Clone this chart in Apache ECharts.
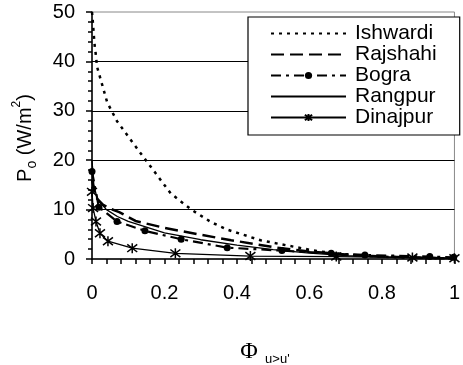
<!DOCTYPE html>
<html><head><meta charset="utf-8">
<script src="https://cdn.jsdelivr.net/npm/echarts@6/dist/echarts.min.js"></script>
<style>html,body{margin:0;padding:0;background:#fff}#c{width:463px;height:365px}</style>
</head><body><div id="c"></div>
<script>
const seriesNames = ['Ishwardi','Rajshahi','Bogra','Rangpur','Dinajpur'];
const xTicks = [0,0.2,0.4,0.6,0.8,1];
const yTicks = [0,10,20,30,40,50];

const ishwardiX = [0,0.003,0.005,0.008,0.01,0.014,0.042,0.069,0.121,0.217,0.246,0.274,0.33,0.375,0.465,0.52,0.606,0.67,0.75,0.85,0.93,1.0];
const ishwardiY = [50,47.4,45.3,42.7,41.7,38.9,31.7,27.9,22.7,13.3,11.6,10.0,7.4,5.9,3.8,3.0,1.8,1.1,0.6,0.35,0.2,0.1];

const rajshahiX = [0,0.01,0.03,0.05,0.075,0.12,0.2,0.3,0.384,0.51,0.6,0.7,0.8,0.9,1.0];
const rajshahiY = [16,12.5,11,10.2,9.5,7.7,6.3,4.9,3.8,2.3,1.5,0.9,0.5,0.3,0.1];

const bograX = [0,0.019,0.069,0.146,0.246,0.373,0.524,0.66,0.753,0.932,0.998];
const bograY = [17.7,10.5,7.6,5.7,4.0,2.3,1.7,1.15,0.8,0.5,0.35];

const rangpurX = [0,0.005,0.015,0.04,0.07,0.1,0.2,0.3,0.4,0.5,0.6,0.7,0.8,0.9,1.0];
const rangpurY = [20,15,12,10,8.6,7.6,5.3,3.9,2.8,1.9,1.2,0.7,0.45,0.25,0.1];

const dinajpurX = [0,0.003,0.011,0.022,0.044,0.111,0.23,0.437,0.674,0.884,1.0];
const dinajpurY = [13.6,10.3,7.6,5.2,3.6,2.2,1.15,0.6,0.5,0.3,0.15];

const zip = (xs, ys) => xs.map((x, i) => [x, ys[i]]);
const F = 'Liberation Sans, Arial, sans-serif';

const chart = echarts.init(document.getElementById('c'), null, {renderer: 'canvas'});
chart.setOption({
  animation: false,
  backgroundColor: '#fff',
  grid: {left: 92, right: 4, top: 12, bottom: 106, show: true, borderColor: '#888', borderWidth: 1},
  xAxis: {
    type: 'value', min: 0, max: 1, interval: 0.2,
    axisLine: {lineStyle: {color: '#000', width: 1.5}},
    axisTick: {inside: false, length: 5, lineStyle: {color: '#000', width: 1.5}},
    minorTick: {show: true, splitNumber: 5, length: 5, lineStyle: {color: '#000', width: 1.5}},
    splitLine: {show: false},
    axisLabel: {color: '#000', fontSize: 20, fontFamily: F, margin: 24,
      formatter: v => String(+v.toFixed(1))}
  },
  yAxis: {
    type: 'value', min: 0, max: 50, interval: 10,
    axisLine: {lineStyle: {color: '#000', width: 1.5}},
    axisTick: {inside: false, length: 6, lineStyle: {color: '#000', width: 1.5}},
    minorTick: {show: true, splitNumber: 5, length: 4, lineStyle: {color: '#000', width: 1.5}},
    splitLine: {show: true, showMinLine: false, showMaxLine: false, lineStyle: {color: '#000', width: 1}},
    axisLabel: {color: '#000', fontSize: 20, fontFamily: F, margin: 17}
  },
  legend: {
    orient: 'vertical', left: 248, top: 17,
    backgroundColor: '#fff', borderColor: '#000', borderWidth: 1.2,
    padding: [6, 23, 7, 22],
    itemWidth: 75, itemHeight: 9, itemGap: 0,
    textStyle: {color: '#000', fontSize: 21, fontFamily: F, padding: [0, 0, 0, 4], lineHeight: 19.5},
    data: [
      {name: seriesNames[0], itemStyle: {opacity: 0}},
      {name: seriesNames[1], itemStyle: {opacity: 0}},
      {name: seriesNames[2]},
      {name: seriesNames[3], itemStyle: {opacity: 0}},
      {name: seriesNames[4]}
    ]
  },
  series: [
    {name: seriesNames[0], type: 'line', data: zip(ishwardiX, ishwardiY), symbol: 'none',
      lineStyle: {color: '#000', width: 2.5, type: [3, 5]}, itemStyle: {color: '#000'}},
    {name: seriesNames[1], type: 'line', data: zip(rajshahiX, rajshahiY), symbol: 'none',
      lineStyle: {color: '#000', width: 2.5, type: [13, 6]}, itemStyle: {color: '#000'}},
    {name: seriesNames[2], type: 'line', data: zip(bograX, bograY), symbol: 'circle', symbolSize: 7,
      lineStyle: {color: '#000', width: 2.2, type: [10, 5, 3, 5]}, itemStyle: {color: '#000'}},
    {name: seriesNames[3], type: 'line', data: zip(rangpurX, rangpurY), symbol: 'none',
      lineStyle: {color: '#000', width: 1.3}, itemStyle: {color: '#000'}},
    {name: seriesNames[4], type: 'line', data: zip(dinajpurX, dinajpurY),
      symbol: 'path://M-1,-1L1,1M-1,1L1,-1M0,-1.3L0,1.3', symbolSize: 10,
      lineStyle: {color: '#000', width: 1.3}, itemStyle: {color: '#000', borderColor: '#000', borderWidth: 1.5}}
  ],
  graphic: [
    {type: 'text', x: 25, y: 138, rotation: Math.PI / 2,
      style: {text: '{a|P}{b|o}{a| (W/m}{c|2}{a|)}', align: 'center', verticalAlign: 'middle',
        rich: {
          a: {fontSize: 20, fontFamily: F, fill: '#000', lineHeight: 28, verticalAlign: 'middle'},
          b: {fontSize: 14, fontFamily: F, fill: '#000', lineHeight: 28, verticalAlign: 'bottom'},
          c: {fontSize: 12, fontFamily: F, fill: '#000', lineHeight: 28, verticalAlign: 'top'}
        }}},
    {type: 'text', x: 265, y: 352,
      style: {text: '{p|Φ}{s|  u>u\'}', align: 'center', verticalAlign: 'middle',
        rich: {
          p: {fontSize: 24, fontFamily: 'Liberation Serif, serif', fill: '#000', lineHeight: 28, verticalAlign: 'middle'},
          s: {fontSize: 13, fontFamily: F, fill: '#000', lineHeight: 28, verticalAlign: 'bottom'}
        }}}
  ]
});
</script></body></html>
